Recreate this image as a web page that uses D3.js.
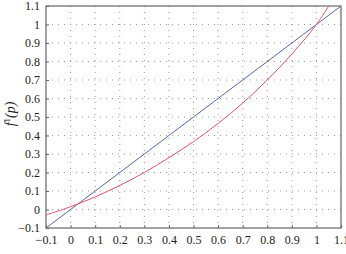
<!DOCTYPE html>
<html><head><meta charset="utf-8">
<script src="https://cdn.jsdelivr.net/npm/d3@7"></script>
<style>body{margin:0;background:#fff}svg{display:block}</style>
</head><body><svg id="c" width="346" height="254"></svg>
<script>
const xTicks = [-0.1,0,0.1,0.2,0.3,0.4,0.5,0.6,0.7,0.8,0.9,1,1.1];
const yTicks = [-0.1,0,0.1,0.2,0.3,0.4,0.5,0.6,0.7,0.8,0.9,1,1.1];
const blueX = [-0.1, 1.1];
const blueY = [-0.1, 1.1];
const redX = [-0.1, 0, 0.1, 0.2, 0.3, 0.4, 0.5, 0.6, 0.7, 0.8, 0.9, 1.0, 1.05];
const redY = [-0.03, 0.015, 0.068, 0.13, 0.2, 0.28, 0.367, 0.465, 0.575, 0.7, 0.84, 1.0, 1.1];

const svg = d3.select("#c");
const L=46, R=341, T=6, B=228;
const x = d3.scaleLinear().domain([-0.1,1.1]).range([L,R]);
const y = d3.scaleLinear().domain([-0.1,1.1]).range([B,T]);
const font = "'Liberation Serif','DejaVu Serif',serif";

// grid
const g = svg.append("g");
g.selectAll("line.v").data(xTicks.slice(1,-1)).enter().append("line")
 .attr("x1",d=>x(d)).attr("x2",d=>x(d)).attr("y1",T).attr("y2",B)
 .attr("stroke","#999").attr("stroke-width",1).attr("stroke-dasharray","1,5");
g.selectAll("line.h").data(yTicks.slice(1,-1)).enter().append("line")
 .attr("y1",d=>y(d)).attr("y2",d=>y(d)).attr("x1",L).attr("x2",R)
 .attr("stroke","#999").attr("stroke-width",1).attr("stroke-dasharray","1,5");

// axes
const fmt = d => d<0 ? "\u2212"+Math.abs(d) : String(d);
const ax = svg.append("g").attr("transform",`translate(0,${B})`)
 .call(d3.axisBottom(x).tickValues(xTicks).tickSize(-3).tickPadding(7).tickFormat(fmt));
const ay = svg.append("g").attr("transform",`translate(${L},0)`)
 .call(d3.axisLeft(y).tickValues(yTicks).tickSize(-3).tickPadding(6).tickFormat(fmt));
[ax,ay].forEach(a=>{
  a.select(".domain").remove();
  a.selectAll(".tick line").attr("stroke","#666");
  a.selectAll("text").attr("font-family",font).attr("font-size",12).attr("fill","#222");
});
svg.append("rect").attr("x",L).attr("y",T).attr("width",R-L).attr("height",B-T)
 .attr("fill","none").attr("stroke","#666").attr("stroke-width",1.2);

svg.append("clipPath").attr("id","cp").append("rect")
 .attr("x",L).attr("y",T).attr("width",R-L).attr("height",B-T);

const line = d3.line().x(d=>x(d[0])).y(d=>y(d[1]));
svg.append("path").datum(blueX.map((v,i)=>[v,blueY[i]])).attr("d",line)
 .attr("fill","none").attr("stroke","#5566b0").attr("stroke-width",1).attr("clip-path","url(#cp)");
svg.append("path").datum(redX.map((v,i)=>[v,redY[i]])).attr("d",line.curve(d3.curveCatmullRom))
 .attr("fill","none").attr("stroke","#e8506a").attr("stroke-width",1).attr("clip-path","url(#cp)");

// y label
const yl = svg.append("text").attr("transform","translate(15,114) rotate(-90)")
 .attr("text-anchor","middle").attr("font-family",font).attr("font-size",14).attr("font-style","italic").attr("fill","#222");
yl.append("tspan").text("f");
yl.append("tspan").text("1").attr("font-style","normal").attr("font-size",9).attr("dy",-5);
yl.append("tspan").text("(p)").attr("dy",5);
</script></body></html>
